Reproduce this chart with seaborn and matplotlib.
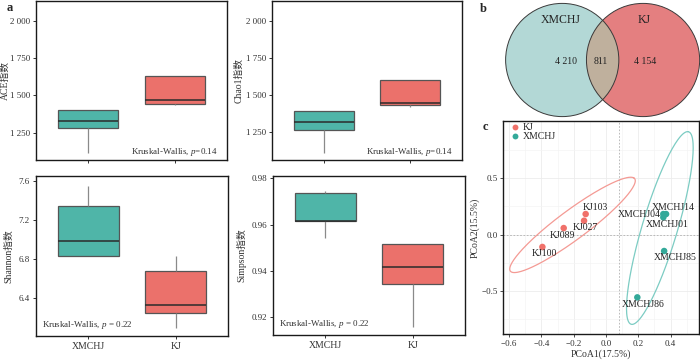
import numpy as np
import pandas as pd
import seaborn as sns
import matplotlib.pyplot as plt
from matplotlib.patches import Circle

# Groupes
groups = ["XMCHJ", "KJ"]

# Indices alpha (min, Q1, mediane, Q3, max)
ace_xmchj = [1116, 1281, 1330, 1402, 1402]
ace_kj = [1436, 1442, 1467, 1628, 1628]
chao1_xmchj = [1109, 1263, 1320, 1389, 1389]
chao1_kj = [1422, 1436, 1449, 1603, 1603]
shannon_xmchj = [6.836, 6.836, 6.99, 7.347, 7.552]
shannon_kj = [6.10, 6.246, 6.335, 6.68, 6.833]
simpson_xmchj = [0.9544, 0.9615, 0.9615, 0.9735, 0.9745]
simpson_kj = [0.9157, 0.9343, 0.9416, 0.9516, 0.9516]

# Venn
venn_counts = [4210, 811, 4154]

# PCoA
samples = ["KJ103", "KJ027", "KJ089", "KJ100",
           "XMCHJ14", "XMCHJ04", "XMCHJ01", "XMCHJ85", "XMCHJ86"]
sample_group = ["KJ"] * 4 + ["XMCHJ"] * 5
pcoa1 = [-0.126, -0.136, -0.262, -0.394, 0.372, 0.355, 0.355, 0.36, 0.194]
pcoa2 = [0.181, 0.122, 0.057, -0.11, 0.181, 0.181, 0.152, -0.146, -0.556]
# ellipses : centre x, centre y, demi-axes, angle (deg)
ell_kj = [-0.2075, 0.085, 0.563, 0.11, 47.5]
ell_xmchj = [0.3335, 0.0575, 0.87, 0.112, 78.4]
vline_x = 0.08

teal = "#4fb5a8"
red = "#eb716b"
pt_teal = "#33a999"
pt_red = "#f0716a"

alpha = pd.DataFrame({
    "group": ["XMCHJ"] * 5 + ["KJ"] * 5,
    "ACE": ace_xmchj + ace_kj,
    "Chao1": chao1_xmchj + chao1_kj,
    "Shannon": shannon_xmchj + shannon_kj,
    "Simpson": simpson_xmchj + simpson_kj,
})
pc = pd.DataFrame({"sample": samples, "group": sample_group,
                   "PCoA1": pcoa1, "PCoA2": pcoa2})

sns.set_theme(style="ticks")
plt.rcParams["font.family"] = ["Liberation Serif", "Noto Sans CJK SC"]
plt.rcParams["mathtext.fontset"] = "custom"
plt.rcParams["mathtext.it"] = "Liberation Serif:italic"
plt.rcParams["mathtext.rm"] = "Liberation Serif"
plt.rcParams["axes.edgecolor"] = "#1a1a1a"
plt.rcParams["axes.linewidth"] = 1.0

fig = plt.figure(figsize=(7, 3.6), dpi=100)

W, H = 700, 360
def add_ax(x0, y0, x1, y1):
    return fig.add_axes([x0 / W, 1 - y1 / H, (x1 - x0) / W, (y1 - y0) / H])

ax_ace = add_ax(36, 1, 227, 160)
ax_chao = add_ax(272, 1, 462, 160)
ax_sha = add_ax(36, 176, 228, 336)
ax_sim = add_ax(273, 176, 465, 335)
ax_venn = add_ax(490, 0, 700, 120)
ax_pc = add_ax(503, 121, 699, 334)


def draw_box(ax, col, ylabel, yticks, yticklabels, ylim, note, top):
    sns.boxplot(data=alpha, x="group", y=col, hue="group", order=groups,
                hue_order=groups, palette=[teal, red], width=0.7,
                saturation=1, showfliers=False, showcaps=False, linewidth=0.9,
                linecolor="#3a3a3a", legend=False, ax=ax,
                whiskerprops={"color": "#8a8a8a", "linewidth": 0.9},
                medianprops={"color": "#2b2b2b", "linewidth": 1.1},
                boxprops={"edgecolor": "#555555"})
    ax.set_xlim(-0.6, 1.6)
    ax.set_ylim(*ylim)
    ax.set_yticks(yticks)
    ax.set_yticklabels(yticklabels)
    ax.set_xlabel("")
    ax.set_ylabel(ylabel, fontsize=7, color="#333333")
    ax.tick_params(length=2.5, width=0.7, colors="#333333", labelsize=6.5, pad=2)
    if top:
        ax.tick_params(axis="x", labelbottom=False)
        ax.text(0.95, 0.05, note, transform=ax.transAxes, ha="right",
                va="center", fontsize=6.5, color="#333333")
    else:
        ax.tick_params(axis="x", labelsize=7)
        ax.text(0.03, 0.07, note, transform=ax.transAxes, ha="left",
                va="center", fontsize=6.5, color="#333333")


draw_box(ax_ace, "ACE", "ACE指数", [1250, 1500, 1750, 2000],
         ["1 250", "1 500", "1 750", "2 000"], (1067, 2132),
         "Kruskal-Wallis, $p$=0.14", True)
draw_box(ax_chao, "Chao1", "Chao1指数", [1250, 1500, 1750, 2000],
         ["1 250", "1 500", "1 750", "2 000"], (1060, 2138),
         "Kruskal-Wallis, $p$=0.14", True)
draw_box(ax_sha, "Shannon", "Shannon指数", [6.4, 6.8, 7.2, 7.6],
         ["6.4", "6.8", "7.2", "7.6"], (6.016, 7.65),
         "Kruskal-Wallis, $p$ = 0.22", False)
draw_box(ax_sim, "Simpson", "Simpson指数", [0.92, 0.94, 0.96, 0.98],
         ["0.92", "0.94", "0.96", "0.98"], (0.9124, 0.981),
         "Kruskal-Wallis, $p$ = 0.22", False)
ax_ace.yaxis.set_label_coords(-0.135, 0.5)
ax_chao.yaxis.set_label_coords(-0.15, 0.5)
ax_sha.yaxis.set_label_coords(-0.12, 0.5)
ax_sim.yaxis.set_label_coords(-0.14, 0.5)

# Venn
r = 1.0
d = 0.714
ax_venn.set_xlim(-1.99, 1.72)
ax_venn.set_ylim(-1.06, 1.06)
ax_venn.axis("off")
c_left = Circle((-d, 0), r, fc="#b3d8d6", ec="none")
c_right = Circle((d, 0), r, fc="#e47f80", ec="none")
ax_venn.add_patch(c_left)
ax_venn.add_patch(c_right)
inter = Circle((d, 0), r, fc="#bfb09d", ec="none")
ax_venn.add_patch(inter)
inter.set_clip_path(c_left)
for cx in (-d, d):
    ax_venn.add_patch(Circle((cx, 0), r, fc="none", ec="#3a3a3a", lw=0.7,
                             clip_on=False))
ax_venn.text(-0.74, 0.7, groups[0], ha="center", va="center", fontsize=8.5,
             color="#222222")
ax_venn.text(0.73, 0.7, groups[1], ha="center", va="center", fontsize=8.5,
             color="#222222")
ax_venn.text(-0.64, -0.03, f"{venn_counts[0]:,}".replace(",", " "),
             ha="center", va="center", fontsize=7, color="#222222")
ax_venn.text(-0.04, -0.03, f"{venn_counts[1]}", ha="center", va="center",
             fontsize=7, color="#222222")
ax_venn.text(0.75, -0.03, f"{venn_counts[2]:,}".replace(",", " "),
             ha="center", va="center", fontsize=7, color="#222222")

# PCoA
ax_pc.set_xlim(-0.638, 0.576)
ax_pc.set_ylim(-0.88, 1.004)
ax_pc.set_xticks(np.arange(-0.6, 0.41, 0.2))
ax_pc.set_xticks(np.arange(-0.5, 0.51, 0.2), minor=True)
ax_pc.set_yticks([-0.5, 0.0, 0.5])
ax_pc.set_yticks([-0.75, -0.25, 0.25, 0.75], minor=True)
ax_pc.set_xticklabels(["\u22120.6", "\u22120.4", "\u22120.2", "0.0", "0.2", "0.4"])
ax_pc.set_yticklabels(["\u22120.5", "0.0", "0.5"])
ax_pc.grid(which="major", color="#ececec", lw=0.6)
ax_pc.grid(which="minor", color="#f4f4f4", lw=0.5)
ax_pc.set_axisbelow(True)
ax_pc.axvline(vline_x, color="#b0b0b0", lw=0.6, ls=(0, (2, 2)), zorder=1)
ax_pc.axhline(0, color="#b0b0b0", lw=0.6, ls=(0, (2, 2)), zorder=1)

t = np.linspace(0, 2 * np.pi, 200)
for (cx, cy, a, b, ang), col in ((ell_kj, "#f49a94"), (ell_xmchj, "#7cccc3")):
    th = np.deg2rad(ang)
    ex = cx + a * np.cos(t) * np.cos(th) - b * np.sin(t) * np.sin(th)
    ey = cy + a * np.cos(t) * np.sin(th) + b * np.sin(t) * np.cos(th)
    ax_pc.plot(ex, ey, color=col, lw=0.9, zorder=2)

sns.scatterplot(data=pc, x="PCoA1", y="PCoA2", hue="group",
                hue_order=["KJ", "XMCHJ"], palette=[pt_red, pt_teal],
                s=22, edgecolor="none", ax=ax_pc, zorder=3)

offsets = {"KJ103": (7, 5), "KJ027": (1, -5), "KJ089": (-1, -5.5),
           "KJ100": (1.5, -5), "XMCHJ14": (5, 5), "XMCHJ04": (-17, 0),
           "XMCHJ01": (2.5, -5.5), "XMCHJ85": (8, -5), "XMCHJ86": (4.5, -5)}
for _, row in pc.iterrows():
    dx, dy = offsets[row["sample"]]
    ax_pc.annotate(row["sample"], (row["PCoA1"], row["PCoA2"]),
                   xytext=(dx, dy), textcoords="offset points", ha="center",
                   va="center", fontsize=7, color="#222222")

leg = ax_pc.legend(loc="upper left", frameon=False, fontsize=7,
                   handletextpad=-0.2, borderaxespad=0.1, labelspacing=0.05,
                   borderpad=0.1, markerscale=0.9)
ax_pc.set_xlabel("PCoA1(17.5%)", fontsize=7, color="#333333", labelpad=1)
ax_pc.set_ylabel("PCoA2(15.5%)", fontsize=7, color="#333333", labelpad=1)
ax_pc.tick_params(length=2, width=0.6, colors="#333333", labelsize=6.5, pad=2)
ax_pc.tick_params(which="minor", length=0)

fig.text(7 / W, 1 - 8 / H, "a", fontsize=9, fontweight="bold", va="center")
fig.text(480 / W, 1 - 9 / H, "b", fontsize=9, fontweight="bold", va="center")
fig.text(483 / W, 1 - 127 / H, "c", fontsize=9, fontweight="bold", va="center")

fig.savefig("out.png", dpi=100)
